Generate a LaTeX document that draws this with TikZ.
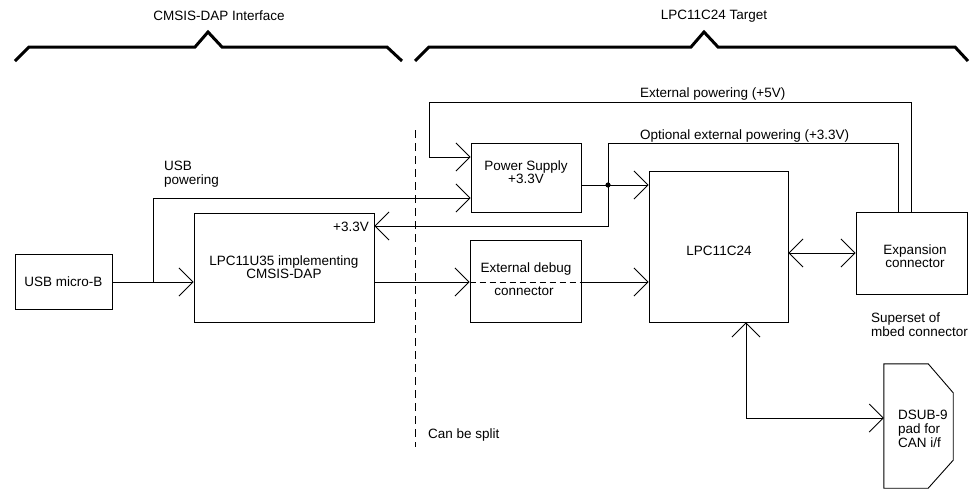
\documentclass[tikz,border=0pt]{standalone}
\usepackage{fontspec}
\setmainfont{Liberation Sans}
\usetikzlibrary{arrows.meta}
\begin{document}
\begin{tikzpicture}[x=1pt,y=-1pt,
  font=\fontsize{13.5}{14}\selectfont,
  box/.style={draw, line width=0.9pt, inner sep=0pt, align=center},
  ghost/.style={inner sep=0pt},
  lbl/.style={inner sep=0pt, align=left, anchor=west},
  ctr/.style={inner sep=0pt, align=center},
  wire/.style={line width=0.9pt},
  tipa/.tip={Straight Barb[length=14pt,width=28pt,line width=0.8pt]},
  arr/.style={wire, -tipa},
  dblarr/.style={wire, tipa-tipa},
  splitline/.style={line width=0.9pt, dash pattern=on 8pt off 5pt},
  brace/.style={line width=3pt, line join=miter}]
\useasboundingbox (0,0) rectangle (980,490);

% headers
\node[ctr] (h1) at (219,16) {CMSIS-DAP Interface};
\node[ctr] (h2) at (714,16) {LPC11C24 Target};
\draw[brace] (15,61) -- (29,47) -- (195,47) -- (208,32) -- (222,47) -- (387,47) -- (402,61);
\draw[brace] (415,61) -- (429,47) -- (691,47) -- (704,32) -- (718,47) -- (955,47) -- (968,61);

% boxes
\node[box, minimum width=97pt, minimum height=55pt] (usb) at (63.5,281.5) {USB micro-B};
\node[box, minimum width=180pt, minimum height=109pt, font=\fontsize{13.5}{13}\selectfont] (u35) at (284,267.5) {LPC11U35 implementing\\CMSIS-DAP};
\node[lbl, anchor=east] (u35v) at (369,227) {+3.3V};

\node[box, minimum width=110pt, minimum height=69pt] (ps) at (526,177.5) {};
\node[ctr, font=\fontsize{13.5}{12}\selectfont] (pst) at (526,172) {Power Supply\\+3.3V};

\node[box, minimum width=111pt, minimum height=82pt] (dbg) at (525.5,281) {};
\node[ctr] (dbgt1) at (526,269) {External debug};
\node[ctr] (dbgt2) at (524,291) {connector};

\node[box, minimum width=139pt, minimum height=151pt] (c24) at (718.5,246.5) {};
\node[ctr] (c24t) at (719,251) {LPC11C24};

\node[box, minimum width=111pt, minimum height=82pt] (exp) at (911.5,253) {};
\node[ctr, font=\fontsize{13.5}{13}\selectfont] (expt) at (915,256.5) {Expansion\\connector};

\node[ghost, minimum width=69pt, minimum height=124pt] (dsub) at (918.5,426) {};
\draw[wire] (dsub.north west) -- ([xshift=-25pt]dsub.north east) -- ([yshift=-29pt]dsub.north east)
  -- ([yshift=28pt]dsub.south east) -- ([xshift=-25pt]dsub.south east) -- (dsub.south west) -- cycle;
\node[lbl] (dsubt) at (898,429) {DSUB-9\\pad for\\CAN i/f};

% labels
\node[lbl] (usbp) at (164,174) {USB\\powering};
\node[lbl] (extp) at (640,94) {External powering (+5V)};
\node[lbl] (optp) at (640,136) {Optional external powering (+3.3V)};
\node[lbl] (sup) at (871,325) {Superset of\\mbed connector};
\node[lbl] (split) at (428,435) {Can be split};

% split line
\coordinate (st) at (415,130);
\coordinate (sb) at (415,447);
\draw[splitline] (st) -- (sb);

% connectors
\coordinate (j1) at (153,282);
\coordinate (dot) at (608,185);
\draw[arr] (usb.east |- j1) -- (u35.west |- j1);
\draw[arr] (j1) |- (ps.west |- 0,198);
\draw[wire] (ps.east |- dot) -- (dot);
\draw[arr] (dot) -- (dot -| c24.west);
\draw[arr] (dot) |- (u35.east |- 0,226);
\draw[wire] (dot) |- ([xshift=-13.5pt]exp.north |- 0,143) -- ([xshift=-13.5pt]exp.north);
\draw[arr] (exp.north) |- (429,102) |- (ps.west |- 0,157);
\fill (dot) circle (2.6pt);

\draw[arr] (u35.east |- 0,282) -- (dbg.west |- 0,282);
\draw[wire, dash pattern=on 6pt off 4pt] (dbg.west |- 0,282) -- (dbg.east |- 0,282);
\draw[arr] (dbg.east |- 0,282) -- (c24.west |- 0,282);

\draw[dblarr] (c24.east |- 0,253) -- (exp.west |- 0,253);
\draw[dblarr] (c24.south -| 746,0) |- (dsub.west |- 0,418);
\end{tikzpicture}
\end{document}
